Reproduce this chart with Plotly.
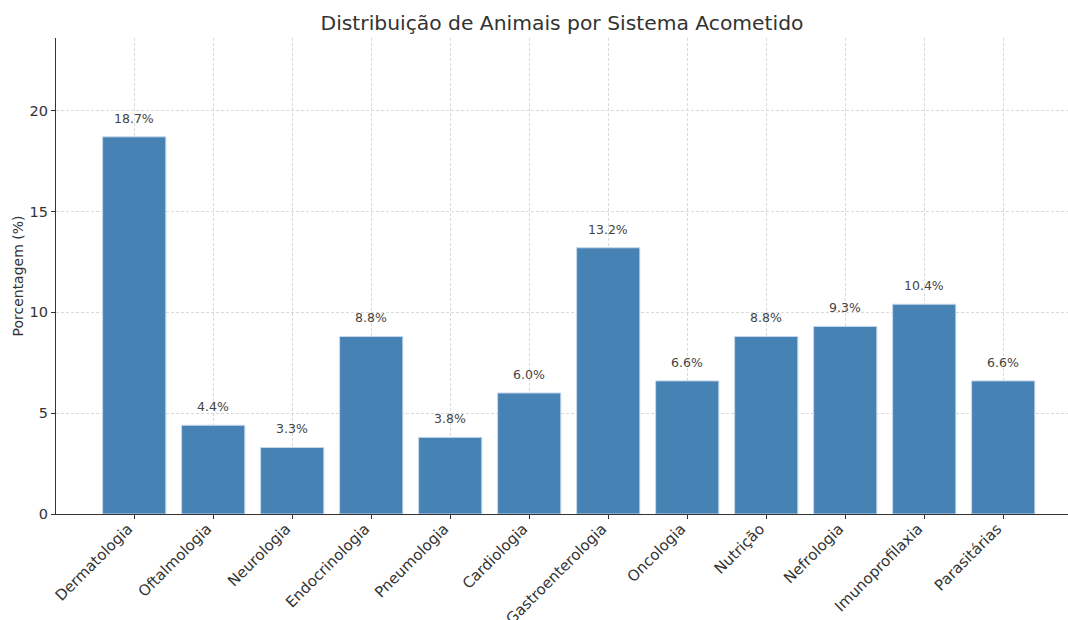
import plotly.graph_objects as go

categorias = ["Dermatologia", "Oftalmologia", "Neurologia", "Endocrinologia", "Pneumologia",
              "Cardiologia", "Gastroenterologia", "Oncologia", "Nutrição", "Nefrologia",
              "Imunoprofilaxia", "Parasitárias"]
porcentagens = [18.7, 4.4, 3.3, 8.8, 3.8, 6.0, 13.2, 6.6, 8.8, 9.3, 10.4, 6.6]
y_ticks = [0, 5, 10, 15, 20]

font_family = "DejaVu Sans"

bar = go.Bar(
    x=list(range(len(categorias))),
    y=porcentagens,
    width=0.8,
    marker=dict(color="#4682B4", line=dict(color="#c6d8ea", width=1)),
    showlegend=False,
    hoverinfo="skip",
)

fig = go.Figure(data=[bar])

# rotulos acima das barras
for i, v in enumerate(porcentagens):
    fig.add_annotation(x=i, y=v + 0.45, text=f"{v:.1f}%", showarrow=False,
                       yanchor="bottom", font=dict(size=12.5, color="#444444", family=font_family))

fig.update_layout(
    width=1068, height=620,
    margin=dict(l=56, r=0, t=38, b=106),
    plot_bgcolor="white", paper_bgcolor="white",
    font=dict(family=font_family, color="#333333", size=14),
    title=dict(text="Distribuição de Animais por Sistema Acometido", x=0.5, xref="paper",
               y=0.963, yanchor="middle", font=dict(size=20.3, color="#333333")),
    bargap=0.2,
)

fig.update_xaxes(
    range=[-0.99, 11.82],
    tickmode="array", tickvals=list(range(len(categorias))), ticktext=categorias,
    tickangle=-45, tickfont=dict(size=15, color="#333333"),
    ticklabelshift=-6, ticklabelstandoff=-5,
    showgrid=True, gridcolor="#d9d9d9", griddash="3px,2px", gridwidth=0.8,
    showline=True, linecolor="#333333", linewidth=1.2,
    ticks="outside", ticklen=4, tickcolor="#333333",
    layer="above traces", zeroline=False, automargin=False,
)
fig.update_yaxes(
    range=[0, 23.6],
    tickmode="array", tickvals=y_ticks,
    tickfont=dict(size=14.5, color="#333333"),
    title=dict(text="Porcentagem (%)", font=dict(size=14, color="#333333"), standoff=2),
    showgrid=True, gridcolor="#d9d9d9", griddash="3px,2px", gridwidth=0.8,
    showline=True, linecolor="#333333", linewidth=1.2,
    ticks="outside", ticklen=4, tickcolor="#333333",
    layer="above traces", zeroline=False, automargin=False,
)

# sem margem do body para alinhar com a imagem original
fig.write_html("out.html", config={"displayModeBar": False},
               post_script="document.body.style.margin='0';")
